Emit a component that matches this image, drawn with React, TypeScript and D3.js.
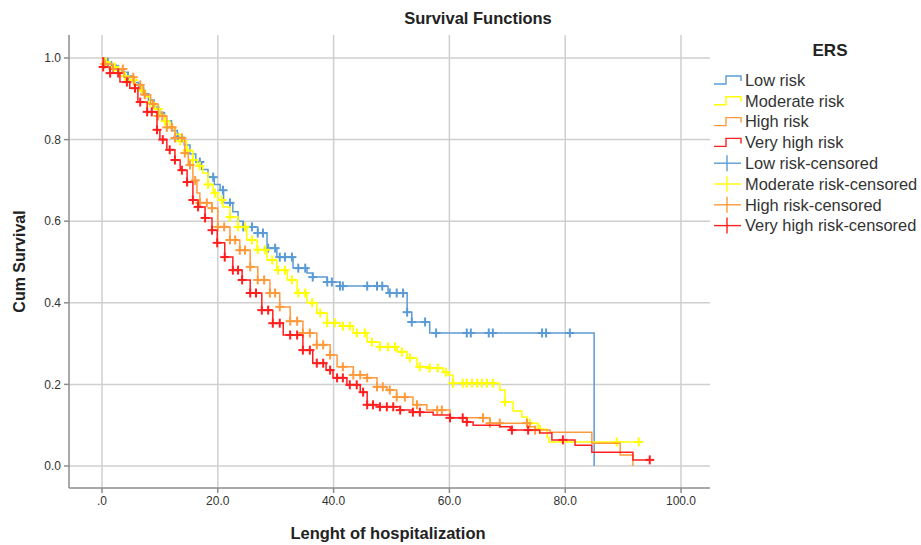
import React from "react";
import * as d3 from "d3";

// Kaplan-Meier survival by ERS group
// knots: [time, survival from that time on]
const lowRisk: [number, number][] = [
  [0, 1.0], [0.5, 0.99], [1.5, 0.982], [2.5, 0.972], [3.5, 0.965], [4.5, 0.955], [5.5, 0.94],
  [6.3, 0.928], [7.2, 0.912], [8.0, 0.897], [9.0, 0.88], [9.8, 0.866], [10.8, 0.846], [12.0, 0.822],
  [13.0, 0.806], [14.2, 0.787], [15.2, 0.765], [16.2, 0.745], [17.2, 0.727], [18.3, 0.708],
  [19.4, 0.69], [20.4, 0.676], [21.0, 0.645], [22.6, 0.623], [23.5, 0.6], [24.4, 0.586],
  [26.9, 0.571], [28.5, 0.534], [30.2, 0.512], [33.0, 0.485], [35.4, 0.473], [36.4, 0.463],
  [38.9, 0.451], [41.1, 0.441], [49.4, 0.424], [52.7, 0.377], [53.5, 0.353], [56.6, 0.326], [85.0, 0.0],
];
const moderateRisk: [number, number][] = [
  [0, 1.0], [0.3, 0.99], [1.4, 0.978], [2.3, 0.97], [3.1, 0.963], [4.0, 0.955], [4.8, 0.946],
  [5.7, 0.933], [6.6, 0.92], [7.5, 0.905], [8.3, 0.89], [9.2, 0.875], [10.0, 0.86], [10.9, 0.845],
  [11.7, 0.83], [12.6, 0.813], [13.5, 0.797], [14.6, 0.773], [15.7, 0.75], [16.5, 0.735], [17.4, 0.718],
  [18.3, 0.69], [19.2, 0.669], [20.0, 0.652], [20.9, 0.635], [22.1, 0.61], [23.5, 0.586], [25.0, 0.554],
  [26.8, 0.53], [28.5, 0.505], [30.2, 0.48], [32.0, 0.456], [33.7, 0.424], [35.4, 0.4], [37.1, 0.375],
  [38.9, 0.351], [41.1, 0.343], [43.4, 0.326], [45.8, 0.304], [48.0, 0.292], [51.0, 0.28], [52.7, 0.265],
  [54.4, 0.243], [56.6, 0.24], [58.9, 0.23], [59.8, 0.223], [60.6, 0.203], [68.7, 0.186], [69.6, 0.157],
  [71.0, 0.135], [72.5, 0.12], [73.4, 0.105], [75.3, 0.09], [76.9, 0.07], [77.2, 0.059], [92.7, 0.059],
];
const highRisk: [number, number][] = [
  [0, 1.0], [0.3, 0.985], [1.9, 0.973], [3.8, 0.953], [5.5, 0.934], [7.1, 0.91], [8.4, 0.887],
  [9.7, 0.858], [11.2, 0.83], [12.6, 0.804], [14.3, 0.767], [14.9, 0.738], [15.7, 0.7], [16.4, 0.669],
  [16.9, 0.645], [19.0, 0.632], [20.0, 0.586], [22.1, 0.554], [23.8, 0.529], [25.6, 0.488], [26.9, 0.456],
  [29.0, 0.424], [30.7, 0.39], [32.5, 0.355], [34.7, 0.326], [37.1, 0.297], [39.4, 0.272], [40.6, 0.243],
  [43.4, 0.223], [45.8, 0.216], [47.5, 0.194], [49.2, 0.186], [50.9, 0.169], [53.7, 0.15], [56.1, 0.137],
  [60.1, 0.118], [67.0, 0.105], [73.9, 0.096], [74.8, 0.088], [77.4, 0.083], [84.6, 0.056], [89.5, 0.027],
  [91.7, 0.0],
];
const veryHighRisk: [number, number][] = [
  [0, 1.0], [0.2, 0.978], [1.4, 0.963], [3.1, 0.941], [4.8, 0.926], [6.2, 0.892], [7.8, 0.868],
  [9.5, 0.824], [10.0, 0.8], [11.2, 0.775], [12.6, 0.75], [13.5, 0.725], [14.7, 0.696], [15.7, 0.652],
  [16.6, 0.635], [17.8, 0.608], [19.0, 0.578], [19.9, 0.547], [21.2, 0.512], [22.6, 0.48], [24.2, 0.456],
  [25.6, 0.424], [27.6, 0.382], [29.5, 0.35], [31.3, 0.321], [34.7, 0.284], [36.4, 0.252], [38.7, 0.235],
  [39.9, 0.216], [42.3, 0.199], [44.6, 0.181], [45.8, 0.15], [48.0, 0.145], [51.5, 0.137], [53.7, 0.132],
  [57.2, 0.125], [60.1, 0.118], [63.0, 0.108], [64.1, 0.1], [68.7, 0.096], [70.5, 0.088], [75.6, 0.081],
  [77.7, 0.064], [81.7, 0.051], [84.6, 0.034], [91.7, 0.015], [94.6, 0.015],
];

// censored observation times
const lowCensored = [
  1.0, 2.8, 4.5, 7.4, 10.0, 13.1, 16.9, 19.2, 20.9, 22.1, 24.4, 25.9, 26.9, 27.8, 28.7, 29.9, 30.7,
  31.6, 32.8, 33.9, 35.1, 36.4, 38.9, 39.7, 41.1, 41.6, 45.8, 47.5, 48.4, 49.7, 50.9, 52.0, 52.7, 53.5,
  55.8, 57.7, 63.0, 63.7, 66.8, 67.5, 76.0, 76.7, 80.8,
];
const moderateCensored = [
  0.7, 2.2, 4.0, 5.4, 6.9, 8.3, 9.7, 10.9, 12.1, 13.5, 14.7, 15.7, 16.9, 18.3, 19.5, 20.7, 22.1, 23.5,
  24.7, 25.9, 26.9, 28.2, 29.4, 30.4, 31.6, 32.8, 33.9, 35.1, 36.3, 37.7, 38.9, 40.2, 41.6, 42.8, 44.0,
  45.4, 46.6, 48.0, 49.4, 50.6, 51.8, 53.2, 54.9, 56.6, 58.0, 59.4, 60.6, 62.3, 63.0, 63.9, 64.8, 65.6,
  66.5, 67.5, 69.6, 73.9, 75.6, 88.9, 92.7,
];
const highCensored = [
  0.5, 1.9, 3.6, 5.4, 6.6, 7.4, 8.8, 9.7, 10.4, 11.2, 12.1, 12.6, 13.8, 14.3, 15.2, 16.1, 16.9, 18.1,
  19.0, 20.0, 21.1, 22.1, 23.0, 23.8, 24.7, 25.6, 26.9, 28.0, 29.0, 29.9, 30.7, 32.5, 33.7, 34.7, 35.9,
  37.1, 38.2, 39.4, 41.6, 43.4, 44.6, 45.8, 47.5, 48.5, 49.7, 50.9, 52.3, 54.4, 57.9, 58.7, 65.8, 67.0,
  68.7, 73.4, 74.8,
];
const veryHighCensored = [
  0.2, 1.4, 2.8, 4.3, 5.7, 6.6, 7.8, 8.6, 9.5, 10.5, 11.7, 12.6, 13.8, 14.7, 15.7, 16.6, 17.8, 19.0,
  19.9, 21.2, 22.6, 23.5, 24.2, 25.6, 26.6, 27.6, 28.7, 29.5, 30.7, 32.5, 33.7, 34.7, 35.9, 37.1, 38.2,
  39.4, 40.6, 41.6, 42.8, 44.0, 45.1, 45.8, 46.8, 48.0, 49.2, 50.3, 51.5, 53.7, 54.9, 60.1, 62.3, 63.0,
  70.8, 73.6, 79.6, 94.6,
];

const groups = [
  { name: "Low risk", color: "#5b9bd5", knots: lowRisk, censored: lowCensored },
  { name: "Moderate risk", color: "#ffff00", knots: moderateRisk, censored: moderateCensored },
  { name: "High risk", color: "#ff9a3c", knots: highRisk, censored: highCensored },
  { name: "Very high risk", color: "#ff1f1f", knots: veryHighRisk, censored: veryHighCensored },
];

const xTicks = [0, 20, 40, 60, 80, 100];
const yTicks = [0, 0.2, 0.4, 0.6, 0.8, 1.0];

const font = "'Liberation Sans', Arial, sans-serif";

export default function App() {
  const width = 921;
  const height = 545;
  // plot frame
  const left = 69, right = 710, top = 35, bottom = 488;

  const x = d3.scaleLinear().domain([0, 100]).range([102, 681]);
  const y = d3.scaleLinear().domain([0, 1]).range([466, 58]);

  const line = d3
    .line<[number, number]>()
    .x((d) => x(d[0]))
    .y((d) => y(d[1]))
    .curve(d3.curveStepAfter);

  const bis = d3.bisector((d: [number, number]) => d[0]).right;
  const survivalAt = (knots: [number, number][], t: number) => {
    const i = Math.max(0, bis(knots, t) - 1);
    return knots[i][1];
  };

  const cross = 4.5;

  // legend
  const legX = 714;
  const legY0 = 80;
  const legStep = 20.8;

  return (
    <svg width={width} height={height} style={{ position: "absolute", left: 0, top: 0, background: "#fff" }}>
      <text x={478} y={24} textAnchor="middle" fontFamily={font} fontWeight="bold" fontSize={16.5} fill="#222">
        Survival Functions
      </text>

      {/* grid */}
      <g stroke="#cfcfcf" strokeWidth={1.5}>
        {yTicks.map((t) => (
          <line key={"gy" + t} x1={left} x2={right} y1={y(t)} y2={y(t)} />
        ))}
        {xTicks.map((t) => (
          <line key={"gx" + t} x1={x(t)} x2={x(t)} y1={top} y2={bottom} />
        ))}
      </g>

      {/* axes */}
      <g stroke="#8c8c8c" strokeWidth={1.5}>
        <line x1={left} x2={left} y1={top} y2={bottom} />
        <line x1={left} x2={right} y1={bottom} y2={bottom} />
        {yTicks.map((t) => (
          <line key={"ty" + t} x1={left - 5} x2={left} y1={y(t)} y2={y(t)} />
        ))}
        {xTicks.map((t) => (
          <line key={"tx" + t} x1={x(t)} x2={x(t)} y1={bottom} y2={bottom + 5} />
        ))}
      </g>

      <g fontFamily={font} fontSize={12} fill="#333">
        {yTicks.map((t) => (
          <text key={"ly" + t} x={left - 8} y={y(t)} dy="0.35em" textAnchor="end">
            {t.toFixed(1)}
          </text>
        ))}
        {xTicks.map((t) => (
          <text key={"lx" + t} x={x(t)} y={bottom + 17} textAnchor="middle">
            {t === 0 ? ".0" : t.toFixed(1)}
          </text>
        ))}
      </g>

      <text x={388} y={539} textAnchor="middle" fontFamily={font} fontWeight="bold" fontSize={16.5} fill="#222">
        Lenght of hospitalization
      </text>
      <text
        transform={`translate(25, ${(top + bottom) / 2}) rotate(-90)`}
        textAnchor="middle"
        fontFamily={font}
        fontWeight="bold"
        fontSize={16}
        fill="#222"
      >
        Cum Survival
      </text>

      {/* curves */}
      {groups.map((g) => (
        <g key={g.name}>
          <path d={line(g.knots) || ""} fill="none" stroke={g.color} strokeWidth={1.5} />
          <g stroke={g.color} strokeWidth={2}>
            {g.censored.map((t, i) => {
              const cx = x(t);
              const cy = y(survivalAt(g.knots, t));
              return (
                <g key={i}>
                  <line x1={cx - cross} x2={cx + cross} y1={cy} y2={cy} />
                  <line x1={cx} x2={cx} y1={cy - cross} y2={cy + cross} />
                </g>
              );
            })}
          </g>
        </g>
      ))}

      {/* legend */}
      <text x={830} y={56} textAnchor="middle" fontFamily={font} fontWeight="bold" fontSize={17} fill="#222">
        ERS
      </text>
      {groups.map((g, i) => {
        const ly = legY0 + i * legStep;
        return (
          <g key={"leg" + g.name}>
            <path
              d={`M${legX},${ly + 4}H${legX + 12}V${ly - 4}H${legX + 27}V${ly + 1}`}
              fill="none"
              stroke={g.color}
              strokeWidth={1.4}
            />
            <text x={legX + 31} y={ly} dy="0.35em" fontFamily={font} fontSize={16.4} fill="#333">
              {g.name}
            </text>
          </g>
        );
      })}
      {groups.map((g, i) => {
        const ly = legY0 + (i + 4) * legStep;
        return (
          <g key={"legc" + g.name}>
            <line x1={legX} x2={legX + 27} y1={ly} y2={ly} stroke={g.color} strokeWidth={1.4} />
            <line x1={legX + 13} x2={legX + 13} y1={ly - 8} y2={ly + 8} stroke={g.color} strokeWidth={1.4} />
            <text x={legX + 31} y={ly} dy="0.35em" fontFamily={font} fontSize={16.4} fill="#333">
              {g.name}-censored
            </text>
          </g>
        );
      })}
    </svg>
  );
}
